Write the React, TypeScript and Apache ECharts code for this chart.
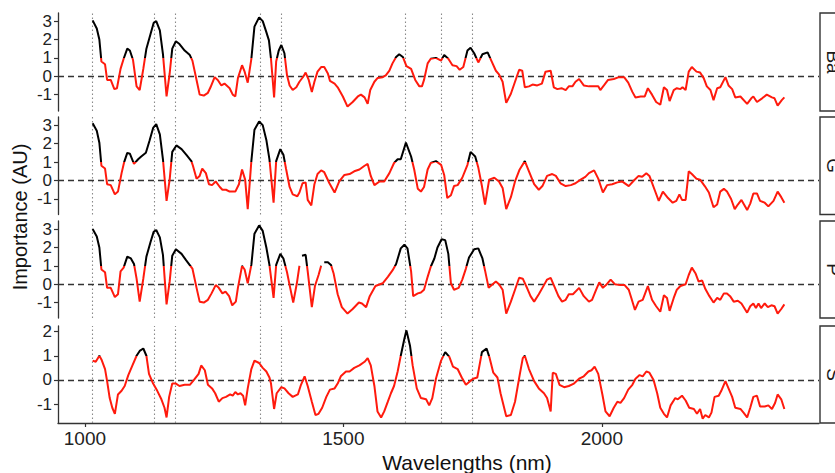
import React, { useEffect, useRef } from "react";
import * as echarts from "echarts";

// ---- Data (wavelength nm, importance AU) ----
const P1: [number, number | null][] = [
  [1015, 3.04], [1023, 2.6], [1028, 2.0], [1032, 0.8], [1039, 0.65], [1043, -0.2], [1050, -0.2], [1057, -0.7], [1062, -0.65], [1069, 0.4],
  [1075, 0.95], [1082, 1.5], [1087, 1.4], [1093, 0.9], [1100, -0.55], [1106, -0.75], [1113, 0.4], [1119, 1.5], [1127, 2.3], [1133, 2.9],
  [1138, 3.0], [1145, 2.5], [1151, 1.2], [1158, -1.1], [1164, 0.15], [1169, 1.5], [1176, 1.9], [1183, 1.75], [1193, 1.4], [1203, 1.15],
  [1208, 0.85], [1216, -0.2], [1222, -1.0], [1230, -1.05], [1238, -0.9], [1243, -0.6], [1251, -0.05], [1257, -0.2], [1264, -0.5], [1270, -0.4],
  [1280, -0.65], [1286, -1.0], [1291, -1.1], [1296, -0.1], [1304, 0.6], [1309, 0.25], [1315, -0.35], [1322, 0.95], [1328, 2.7], [1337, 3.2],
  [1344, 3.0], [1351, 2.4], [1356, 1.95], [1360, 0.95], [1366, -1.15], [1370, 0.8], [1375, 1.4], [1380, 1.7], [1386, 1.25], [1391, 0.05],
  [1396, -0.5], [1402, -0.75], [1409, -0.6], [1415, -0.3], [1423, 0], [1427, 0.2], [1433, -0.2], [1439, -0.85], [1444, -0.3], [1450, 0.25],
  [1457, 0.5], [1463, 0.5], [1470, 0.15], [1474, -0.25], [1483, -0.4], [1489, -0.6], [1499, -1.1], [1508, -1.65], [1518, -1.4], [1528, -1.1],
  [1534, -1.0], [1541, -1.15], [1547, -1.5], [1552, -0.75], [1560, -0.3], [1566, -0.1], [1576, -0.05], [1582, 0.05], [1589, 0.3], [1595, 0.7],
  [1602, 1.05], [1608, 1.2], [1615, 1.05], [1622, 0.55], [1631, 0.4], [1639, -0.2], [1647, -0.55], [1652, -0.55], [1656, -0.2], [1663, 0.7],
  [1669, 0.95], [1679, 1.0], [1689, 0.85], [1695, 1.15], [1703, 0.95], [1711, 0.6], [1719, 0.55], [1725, 0.35], [1732, 0.5], [1740, 1.4],
  [1746, 1.55], [1753, 1.25], [1761, 0.75], [1769, 1.2], [1779, 1.3], [1787, 0.8], [1795, 0.3], [1801, 0.1], [1808, -0.3], [1815, -1.45],
  [1824, -0.95], [1832, -0.3], [1840, 0.35], [1846, 0.3], [1851, -0.6], [1859, -0.55], [1866, -0.45], [1875, -0.5], [1884, -0.4], [1891, 0.25],
  [1901, 0.3], [1907, -0.6], [1914, -0.7], [1922, -0.65], [1930, -0.75], [1936, -0.55], [1943, -0.55], [1949, -0.3], [1956, -0.15], [1965, -0.5],
  [1975, -0.55], [1985, -0.55], [1993, -0.55], [1997, -0.75], [2004, -0.5], [2012, -0.2], [2023, -0.15], [2033, -0.05], [2043, -0.05], [2051, -0.35],
  [2059, -0.85], [2065, -1.15], [2075, -1.1], [2083, -1.1], [2089, -0.65], [2097, -1.0], [2105, -1.4], [2113, -1.55], [2120, -0.6], [2126, -0.75],
  [2131, -1.35], [2139, -0.75], [2145, -0.65], [2152, -0.7], [2156, -0.6], [2162, -0.75], [2168, 0.25], [2174, 0.5], [2183, 0.25], [2190, 0.2],
  [2197, -0.1], [2203, -0.55], [2210, -0.75], [2216, -1.3], [2223, -0.65], [2229, -0.6], [2239, -0.05], [2245, -0.5], [2252, -0.7], [2258, -1.15],
  [2268, -1.1], [2281, -1.5], [2289, -1.2], [2293, -1.1], [2300, -1.4], [2310, -1.2], [2319, -1.0], [2329, -1.15], [2334, -1.2], [2340, -1.6],
  [2348, -1.3], [2353, -1.15],
];

const P2: [number, number | null][] = [
  [1015, 3.1], [1023, 2.7], [1028, 2.05], [1032, 0.8], [1039, 0.65], [1043, -0.2], [1050, -0.25], [1058, -0.75], [1064, -0.6], [1071, 0.4],
  [1076, 1.0], [1082, 1.5], [1087, 1.45], [1095, 0.9], [1103, 1.15], [1109, 1.3], [1118, 1.5], [1125, 2.15], [1132, 2.85], [1138, 3.05],
  [1145, 2.5], [1151, 1.15], [1158, -1.1], [1164, 0.05], [1169, 1.55], [1177, 1.9], [1187, 1.7], [1196, 1.4], [1206, 1.05], [1209, 0.8],
  [1216, 0.1], [1222, 0.25], [1227, 0.65], [1234, 0.4], [1240, -0.2], [1246, -0.25], [1253, -0.05], [1261, -0.35], [1266, -0.5], [1273, -0.5],
  [1280, -0.6], [1291, -0.6], [1298, -0.2], [1304, 0.6], [1310, 0.05], [1315, -1.55], [1322, 1.05], [1328, 2.75], [1337, 3.2], [1344, 3.0],
  [1351, 2.2], [1357, 1.15], [1365, -1.2], [1370, 1.05], [1378, 1.7], [1384, 1.4], [1389, 0.65], [1396, -0.35], [1402, -0.75], [1411, -0.85],
  [1415, -0.65], [1421, -0.15], [1427, -0.1], [1431, -1.05], [1438, -1.35], [1444, -0.2], [1450, 0.35], [1457, 0.55], [1463, 0.45], [1473, -0.15],
  [1483, -0.65], [1492, -0.05], [1502, 0.3], [1512, 0.35], [1521, 0.5], [1531, 0.6], [1541, 0.8], [1547, 0.9], [1553, 0.25], [1560, -0.25],
  [1570, -0.05], [1579, -0.05], [1589, 0.4], [1598, 0.95], [1605, 1.15], [1611, 1.15], [1621, 2.05], [1631, 1.3], [1637, 0.6], [1644, -0.45],
  [1650, -0.6], [1656, -0.35], [1663, 0.6], [1669, 0.95], [1679, 1.05], [1689, 0.85], [1695, 0.3], [1701, -0.95], [1708, -0.8], [1714, -0.3],
  [1721, -0.25], [1730, 0.15], [1740, 0.85], [1746, 1.55], [1755, 1.3], [1761, 0.7], [1768, -0.3], [1774, -1.3], [1782, 0.05], [1792, 0.15],
  [1801, -0.05], [1808, -0.4], [1815, -1.55], [1824, -0.9], [1832, -0.05], [1841, 0.6], [1851, 1.05], [1859, 0.5], [1869, -0.2], [1878, -0.5],
  [1885, -0.3], [1894, 0.25], [1904, 0.35], [1911, 0.25], [1920, -0.15], [1930, -0.3], [1940, -0.25], [1949, -0.15], [1959, 0.05], [1968, 0.2],
  [1975, 0.4], [1985, 0.55], [1993, 0.1], [2002, -0.65], [2010, -0.25], [2020, -0.2], [2030, -0.1], [2039, -0.05], [2052, -0.3], [2062, 0],
  [2071, 0.25], [2078, 0.2], [2086, 0.4], [2092, 0.25], [2102, -0.5], [2110, -1.1], [2118, -0.6], [2128, -0.95], [2137, -1.2], [2144, -1.1],
  [2150, -0.75], [2155, -1.05], [2162, -1.05], [2168, 0.5], [2174, 0.35], [2183, 0.1], [2190, 0.05], [2199, -0.3], [2207, -0.65], [2216, -1.45],
  [2223, -1.3], [2229, -0.6], [2236, -0.45], [2242, -0.6], [2250, -1.0], [2257, -1.55], [2263, -1.3], [2270, -1.05], [2281, -1.6], [2287, -1.25],
  [2293, -0.7], [2300, -0.7], [2306, -1.1], [2315, -1.2], [2322, -1.4], [2332, -1.1], [2340, -0.6], [2347, -0.9], [2353, -1.2],
];

const P3: [number, number | null][] = [
  [1015, 3.0], [1023, 2.6], [1028, 2.0], [1032, 0.8], [1039, 0.65], [1043, -0.2], [1050, -0.2], [1058, -0.7], [1064, -0.55], [1069, 0.7],
  [1075, 0.9], [1082, 1.5], [1089, 1.4], [1095, 1.1], [1100, 0.3], [1106, -0.95], [1113, 0.3], [1119, 1.5], [1127, 2.3], [1133, 2.85],
  [1138, 2.95], [1145, 2.55], [1151, 1.6], [1158, -1.1], [1164, 0.15], [1169, 1.55], [1176, 1.9], [1187, 1.65], [1196, 1.3], [1208, 0.85],
  [1216, -0.2], [1222, -0.95], [1230, -1.0], [1238, -0.85], [1245, -0.5], [1253, -0.05], [1259, -0.2], [1266, -0.5], [1272, -0.4], [1279, -0.65],
  [1285, -1.15], [1292, -0.95], [1296, -0.2], [1304, 1.0], [1309, 0.8], [1315, 0.05], [1322, 1.05], [1328, 2.75], [1337, 3.2], [1344, 2.9],
  [1351, 2.0], [1357, 1.05], [1365, -0.75], [1370, 1.05], [1378, 1.65], [1384, 1.4], [1391, 0.65], [1396, -0.05], [1403, -1.0], [1410, 0.05],
  [1415, 1.0], [1417, null], [1420, 1.55], [1427, 1.6], [1431, 0.7], [1439, -1.25], [1445, -0.1], [1452, 0.5], [1457, 1.0], [1460, null],
  [1463, 1.2], [1470, 1.2], [1476, 1.05], [1481, 0.6], [1489, -0.55], [1497, -1.25], [1508, -1.6], [1518, -1.35], [1530, -1.0], [1536, -1.05],
  [1544, -1.25], [1551, -0.65], [1562, -0.1], [1576, 0.05], [1586, 0.4], [1595, 0.75], [1602, 1.1], [1611, 1.95], [1618, 2.15], [1624, 1.95],
  [1631, 0.7], [1635, -0.65], [1644, -0.5], [1650, -0.45], [1656, -0.3], [1663, 0.4], [1669, 0.95], [1676, 1.4], [1682, 2.0], [1690, 2.45],
  [1697, 2.4], [1703, 1.65], [1708, 0.05], [1714, -0.3], [1723, -0.2], [1730, 0.25], [1737, 0.85], [1743, 1.45], [1753, 1.9], [1761, 1.95],
  [1769, 1.4], [1774, 0.75], [1781, -0.2], [1787, -0.05], [1795, 0.15], [1801, 0], [1808, -0.3], [1815, -1.6], [1824, -0.95], [1832, -0.3],
  [1840, 0.35], [1847, 0.3], [1856, -0.25], [1862, -0.65], [1869, -0.95], [1878, -0.55], [1888, -0.05], [1894, 0.25], [1901, 0.35], [1907, -0.05],
  [1916, -0.65], [1923, -0.95], [1930, -0.85], [1936, -0.55], [1944, -0.55], [1956, -0.2], [1965, -0.65], [1975, -0.95], [1981, -0.85], [1989, -0.3],
  [1995, 0.1], [2002, -0.2], [2008, -0.05], [2017, 0.25], [2025, 0], [2036, -0.05], [2044, -0.05], [2052, -0.3], [2057, -0.75], [2064, -1.4],
  [2071, -0.95], [2079, -0.85], [2089, -0.1], [2097, -0.85], [2105, -1.2], [2113, -1.5], [2120, -0.6], [2126, -0.75], [2131, -1.45], [2139, -0.75],
  [2145, -0.3], [2152, -0.1], [2162, 0], [2168, 0.5], [2174, 0.9], [2181, 0.6], [2187, 0.15], [2194, 0.2], [2200, -0.25], [2208, -0.65],
  [2216, -1.0], [2223, -0.75], [2229, -0.85], [2236, -0.5], [2242, -0.5], [2248, -0.65], [2255, -0.95], [2263, -0.9], [2270, -1.05], [2281, -1.55],
  [2287, -1.2], [2293, -1.05], [2298, -1.3], [2303, -1.05], [2308, -1.3], [2315, -1.05], [2321, -1.25], [2328, -1.15], [2334, -1.2], [2340, -1.6],
  [2347, -1.35], [2353, -1.1],
];

const P4: [number, number | null][] = [
  [1015, 0.8], [1021, 0.75], [1028, 1.0], [1032, 0.85], [1039, 0.45], [1043, -0.05], [1048, -0.75], [1053, -1.15], [1058, -1.4], [1064, -0.6],
  [1071, -0.45], [1077, -0.25], [1084, 0.2], [1092, 0.6], [1100, 1.0], [1106, 1.2], [1113, 1.3], [1119, 1.0], [1124, 0.25], [1132, -0.15],
  [1140, -0.45], [1148, -0.8], [1154, -1.15], [1158, -1.55], [1163, -0.7], [1169, -0.15], [1176, -0.15], [1183, -0.25], [1193, -0.2], [1203, -0.2],
  [1211, 0], [1220, 0.25], [1225, 0.6], [1232, 0.4], [1238, -0.2], [1246, -0.35], [1252, -0.55], [1259, -0.9], [1266, -0.75], [1273, -0.7],
  [1281, -0.6], [1286, -0.65], [1291, -0.5], [1296, -0.6], [1301, -0.55], [1306, -0.65], [1310, -1.05], [1315, -0.35], [1322, 0.45], [1328, 0.8],
  [1337, 0.7], [1344, 0.5], [1351, 0.35], [1357, 0.1], [1360, -0.15], [1366, -1.2], [1371, -0.55], [1380, -0.3], [1386, -0.35], [1394, -0.55],
  [1402, -0.7], [1412, -0.6], [1418, -0.2], [1425, 0.15], [1431, -0.25], [1439, -0.9], [1446, -1.45], [1452, -1.4], [1459, -1.15], [1467, -0.7],
  [1474, -0.4], [1483, -0.35], [1489, -0.15], [1495, 0.15], [1505, 0.35], [1512, 0.35], [1521, 0.5], [1531, 0.6], [1541, 0.75], [1547, 0.9],
  [1553, 0.6], [1560, -0.25], [1566, -1.3], [1573, -1.55], [1579, -1.3], [1586, -0.9], [1592, -0.55], [1598, -0.25], [1605, 0.35], [1611, 1.0],
  [1618, 1.7], [1622, 2.05], [1629, 1.4], [1634, 0.6], [1642, -0.35], [1650, -0.75], [1660, -0.8], [1666, -1.05], [1672, -0.75], [1679, 0.05],
  [1689, 0.8], [1697, 1.15], [1705, 0.95], [1712, 0.55], [1721, 0.45], [1729, 0.1], [1737, -0.2], [1745, -0.05], [1751, 0.05], [1759, 0.1],
  [1768, 1.15], [1777, 1.3], [1783, 0.9], [1790, 0.3], [1798, 0.1], [1804, -0.55], [1815, -1.5], [1824, -1.45], [1832, -0.9], [1841, 0.2],
  [1847, 0.9], [1851, 1.0], [1859, 0.45], [1869, -0.05], [1878, -0.35], [1888, -0.55], [1894, -0.75], [1901, -1.3], [1905, 0.3], [1911, 0.25],
  [1918, -0.2], [1927, -0.3], [1936, -0.25], [1946, -0.15], [1956, 0.05], [1965, 0.15], [1974, 0.35], [1980, 0.4], [1986, 0.55], [1993, 0.25],
  [2001, -0.6], [2007, -1.3], [2015, -1.5], [2023, -1.15], [2030, -0.9], [2036, -0.95], [2043, -0.75], [2051, -0.4], [2059, -0.2], [2065, 0.05],
  [2073, 0.2], [2079, 0.15], [2086, 0.35], [2092, 0.3], [2100, 0], [2107, -0.55], [2113, -1.15], [2120, -1.4], [2126, -1.55], [2133, -1.05],
  [2142, -0.75], [2147, -0.8], [2155, -0.65], [2162, -0.85], [2169, -1.15], [2178, -1.2], [2184, -1.4], [2190, -1.2], [2195, -1.6], [2200, -1.45],
  [2207, -1.55], [2212, -1.35], [2218, -0.7], [2226, -0.65], [2231, -0.45], [2239, -0.05], [2245, -0.35], [2252, -0.7], [2258, -1.15], [2268, -1.2],
  [2274, -1.35], [2281, -1.55], [2287, -1.15], [2293, -0.7], [2300, -0.65], [2306, -1.1], [2315, -1.1], [2322, -1.05], [2329, -1.2], [2335, -0.95],
  [2340, -0.6], [2347, -0.8], [2353, -1.2],
];

const VLINES = [1015, 1135, 1175, 1340, 1380, 1620, 1690, 1750];
const X_TICKS = [1000, 1500, 2000];
const Y_TICKS_A = [-1, 0, 1, 2, 3];
const Y_TICKS_B = [-1, 0, 1, 2];
const PANEL_LABELS = ["Ba", "G", "P", "S"];
const THRESHOLD = 1;
const X_RANGE: [number, number] = [948, 2420];
const Y_RANGES: [number, number][] = [
  [-1.89, 3.44],
  [-1.84, 3.44],
  [-1.84, 3.44],
  [-1.78, 2.23],
];

const FONT = "'Liberation Sans', Arial, sans-serif";
const TOPS = [13, 117, 221, 326];
const HEIGHTS = [98, 97.5, 97, 97];
const GRID_LEFT = 58;
const GRID_RIGHT_X = 819;

export default function App() {
  const ref = useRef<HTMLDivElement>(null);

  useEffect(() => {
    if (!ref.current) return;
    const chart = echarts.init(ref.current, null, { renderer: "svg" });
    const panels = [P1, P2, P3, P4];
    const yTicks = [Y_TICKS_A, Y_TICKS_A, Y_TICKS_A, Y_TICKS_B];

    const grid = panels.map((_, i) => ({
      left: GRID_LEFT,
      right: 835 - GRID_RIGHT_X,
      top: TOPS[i],
      height: HEIGHTS[i],
    }));

    const xAxis = panels.map((_, i) => ({
      type: "value",
      gridIndex: i,
      min: X_RANGE[0],
      max: X_RANGE[1],
      show: i === 3,
      axisLine: { show: true, onZero: false, lineStyle: { color: "#333", width: 1.3 } },
      axisTick: { show: true, length: 4, customValues: X_TICKS, lineStyle: { color: "#333", width: 1.2 } },
      axisLabel: {
        show: true,
        customValues: X_TICKS,
        fontSize: 19,
        color: "#222",
        margin: 6,
        fontFamily: FONT,
        showMinLabel: true,
        showMaxLabel: true,
        hideOverlap: false,
        formatter: (v: number) => String(v),
      },
      splitLine: { show: false },
    }));

    const yAxis = panels.map((_, i) => ({
      type: "value",
      gridIndex: i,
      min: Y_RANGES[i][0],
      max: Y_RANGES[i][1],
      axisLine: { show: true, onZero: false, lineStyle: { color: "#333", width: 1.3 } },
      axisTick: { show: true, length: 4, customValues: yTicks[i], lineStyle: { color: "#333", width: 1.2 } },
      axisLabel: {
        show: true,
        customValues: yTicks[i],
        fontSize: 17,
        lineHeight: 16,
        color: "#222",
        margin: 6,
        fontFamily: FONT,
        showMinLabel: true,
        showMaxLabel: true,
        hideOverlap: false,
        formatter: (v: number) => String(v),
      },
      splitLine: { show: false },
    }));

    const series = panels.map((data, i) => ({
      type: "line",
      xAxisIndex: i,
      yAxisIndex: i,
      data,
      showSymbol: false,
      connectNulls: false,
      lineStyle: { width: 2 },
      z: 3,
      markLine: {
        silent: true,
        symbol: ["none", "none"],
        label: { show: false },
        z: 2,
        data: [
          ...VLINES.map((v) => ({ xAxis: v, lineStyle: { type: [1.5, 2.5], color: "#8a8a8a", width: 1.1 } })),
          { yAxis: 0, lineStyle: { type: [6, 4], color: "#333", width: 1.4 } },
        ],
      },
    }));

    const visualMap = panels.map((_, i) => ({
      type: "piecewise",
      show: false,
      seriesIndex: i,
      dimension: 1,
      pieces: [
        { gte: -10, lt: THRESHOLD, color: "#ff1a0d" },
        { gte: THRESHOLD, lte: 10, color: "#000000" },
      ],
      outOfRange: { color: "#000000" },
    }));

    const graphic: any[] = [];
    panels.forEach((_, i) => {
      graphic.push({
        type: "rect",
        shape: { x: 820, y: TOPS[i], width: 40, height: HEIGHTS[i] },
        style: { fill: "#ffffff", stroke: "#333", lineWidth: 1.4 },
        silent: true,
      });
      graphic.push({
        type: "text",
        x: 833,
        y: TOPS[i] + HEIGHTS[i] / 2,
        rotation: -Math.PI / 2,
        style: {
          text: PANEL_LABELS[i],
          fontSize: 19,
          fontFamily: FONT,
          fill: "#1a1a1a",
          textAlign: "center",
          textVerticalAlign: "middle",
        },
        silent: true,
      });
    });
    graphic.push({
      type: "text",
      x: 20,
      y: 217,
      rotation: Math.PI / 2,
      style: {
        text: "Importance (AU)",
        fontSize: 20,
        fontFamily: FONT,
        fill: "#111",
        textAlign: "center",
        textVerticalAlign: "middle",
      },
      silent: true,
    });
    graphic.push({
      type: "text",
      x: 467,
      y: 462,
      style: {
        text: "Wavelengths (nm)",
        fontSize: 21,
        fontFamily: FONT,
        fill: "#111",
        textAlign: "center",
        textVerticalAlign: "middle",
      },
      silent: true,
    });

    chart.setOption({
      animation: false,
      backgroundColor: "#ffffff",
      grid,
      xAxis,
      yAxis,
      visualMap,
      series,
      graphic,
    } as any);

    return () => chart.dispose();
  }, []);

  return (
    <div
      ref={ref}
      style={{ position: "absolute", left: 0, top: 0, width: 835, height: 473, overflow: "hidden" }}
    />
  );
}
